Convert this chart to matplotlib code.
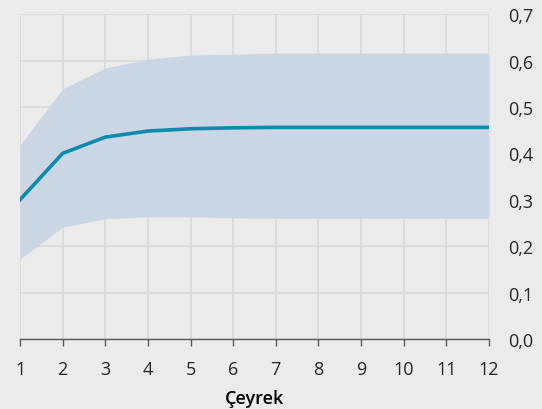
import matplotlib.pyplot as plt
from matplotlib.ticker import FuncFormatter

quarters = list(range(1, 13))
response = [0.300, 0.400, 0.435, 0.448, 0.453, 0.455, 0.456, 0.456, 0.456, 0.456, 0.456, 0.456]
upper = [0.418, 0.539, 0.584, 0.603, 0.612, 0.614, 0.616, 0.616, 0.616, 0.616, 0.616, 0.616]
lower = [0.172, 0.241, 0.259, 0.263, 0.263, 0.261, 0.260, 0.260, 0.260, 0.260, 0.260, 0.260]

bg = '#ebebeb'
plt.rcParams['font.family'] = ['Open Sans', 'DejaVu Sans']

fig = plt.figure(figsize=(5.42, 4.10), dpi=100, facecolor=bg)
ax = fig.add_axes([0.037, 0.171, 0.865, 0.792])
ax.set_facecolor(bg)

ax.fill_between(quarters, lower, upper, color='#cbd6e4', linewidth=0, zorder=2)
ax.plot(quarters, response, color='#0a8aad', linewidth=2.6, zorder=3)

ax.set_xlim(1, 12)
ax.set_ylim(0, 0.7)
ax.set_xticks(quarters)
ax.set_yticks([i / 10 for i in range(8)])
ax.yaxis.set_major_formatter(FuncFormatter(lambda v, p: f'{v:.1f}'.replace('.', ',')))
ax.yaxis.tick_right()

ax.grid(True, color='#dadada', linewidth=1.2, zorder=1)
ax.set_axisbelow(True)
for s in ['top', 'left', 'right']:
    ax.spines[s].set_visible(False)
ax.spines['bottom'].set_color('#595959')
ax.spines['bottom'].set_linewidth(1.0)
ax.spines['bottom'].set_zorder(4)

ax.tick_params(axis='x', direction='out', length=5, width=1, color='#595959',
               labelsize=13, labelcolor='#262626', pad=10)
ax.tick_params(axis='y', length=0, labelsize=13, labelcolor='#262626', pad=14)

ax.set_xlabel('Çeyrek', fontsize=13, fontweight='semibold', color='#000000', labelpad=8)

fig.savefig('out.png', dpi=100, facecolor=bg)
